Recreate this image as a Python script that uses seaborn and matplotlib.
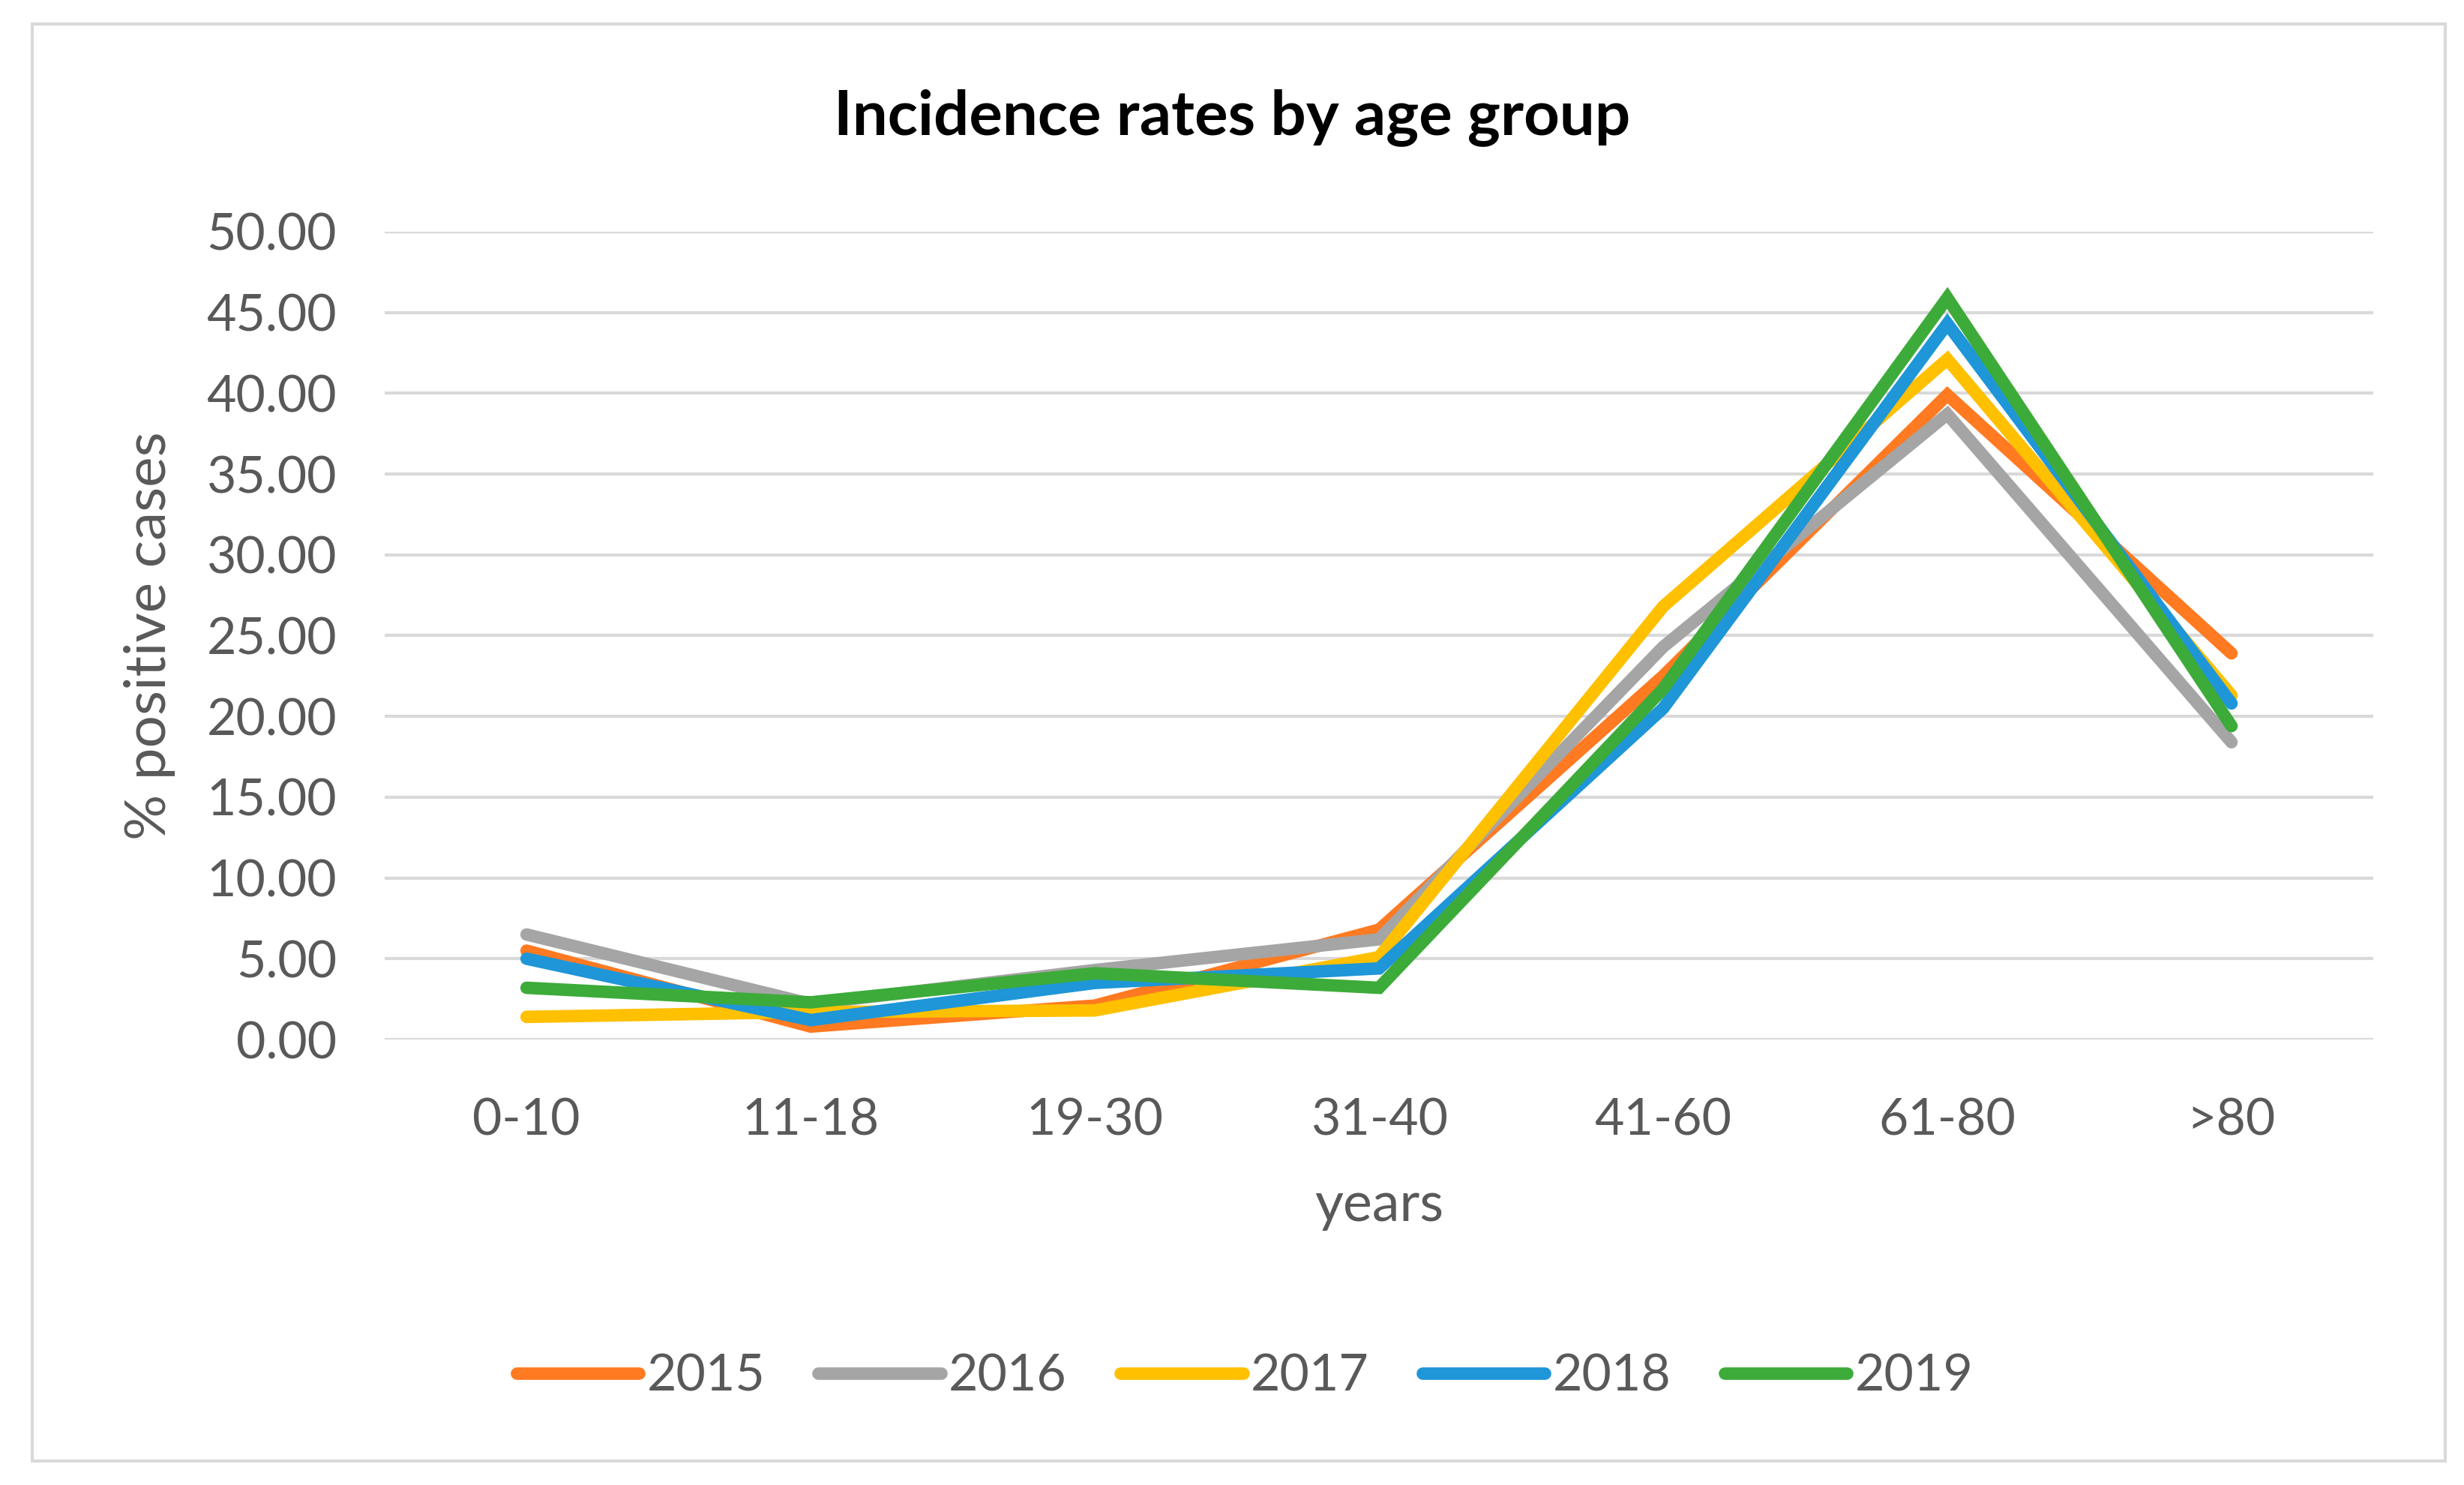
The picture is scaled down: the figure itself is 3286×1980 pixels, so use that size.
import pandas as pd
import seaborn as sns
import matplotlib.pyplot as plt
from matplotlib.patches import Rectangle
from matplotlib.ticker import FormatStrFormatter

# valores
grupos = ["0-10", "11-18", "19-30", "31-40", "41-60", "61-80", ">80"]
anios = ["2015", "2016", "2017", "2018", "2019"]
y2015 = [5.5, 0.8, 2.1, 6.8, 22.5, 39.9, 23.9]
y2016 = [6.5, 2.2, 4.3, 6.2, 24.3, 38.7, 18.4]
y2017 = [1.4, 1.7, 1.8, 5.1, 26.8, 42.1, 21.3]
y2018 = [5.0, 1.2, 3.5, 4.4, 20.5, 44.3, 20.8]
y2019 = [3.2, 2.3, 4.1, 3.2, 21.7, 45.9, 19.4]
colores = ["#FF7A21", "#A5A5A5", "#FFC000", "#1E96D8", "#3DAB3A"]

series = [y2015, y2016, y2017, y2018, y2019]
filas = []
for anio, vals in zip(anios, series):
    for i, v in enumerate(vals):
        filas.append({"grupo": i, "anio": anio, "valor": v})
df = pd.DataFrame(filas)

sns.set_theme(style="white")
plt.rcParams['font.family'] = ['Lato', 'DejaVu Sans']

fig = plt.figure(figsize=(32.87, 19.80), dpi=100)
ax = fig.add_axes([0.156, 0.300, 0.807, 0.544])

paleta = dict(zip(anios, colores))
sns.lineplot(data=df, x="grupo", y="valor", hue="anio", palette=paleta,
             linewidth=12, ax=ax, legend=False)
for ln in ax.lines:
    ln.set_solid_capstyle("round")
    ln.set_solid_joinstyle("miter")

ax.set_xlim(-0.5, 6.5)
ax.set_ylim(0, 50)
ax.set_xticks(range(len(grupos)))
ax.set_xticklabels(grupos)
ax.set_yticks([0, 5, 10, 15, 20, 25, 30, 35, 40, 45, 50])
ax.yaxis.set_major_formatter(FormatStrFormatter("%.2f"))
ax.grid(axis="y", color="#D9D9D9", linewidth=3)
ax.set_axisbelow(True)
for s in ax.spines.values():
    s.set_visible(False)
ax.tick_params(axis="both", length=0, labelsize=49, labelcolor="#595959")
ax.tick_params(axis="y", pad=46)
ax.tick_params(axis="x", pad=56)
ax.set_xlabel("years", fontsize=53, color="#595959")
ax.set_ylabel("% positive cases", fontsize=55, color="#595959")
ax.xaxis.set_label_coords(0.5, -0.206)
ax.xaxis.label.set_va("center")
ax.yaxis.set_label_coords(-0.118, 0.5)
ax.yaxis.label.set_va("center")

fig.text(0.5, 0.921, "Incidence rates by age group", ha="center", va="center",
         fontsize=60, fontweight="bold", color="black")

# leyenda
handles = [plt.Line2D([0], [0], color=c, linewidth=12, solid_capstyle="round") for c in colores]
fig.legend(handles, anios, loc="center", bbox_to_anchor=(0.505, 0.073), ncol=5,
           frameon=False, fontsize=49, handlelength=2.4, handletextpad=0.15,
           columnspacing=1.05, labelcolor="#595959")

# marco exterior
fig.patches.append(Rectangle((0.013, 0.016), 0.979, 0.968, transform=fig.transFigure,
                             fill=False, edgecolor="#D9D9D9", linewidth=3))

fig.savefig("out.png", dpi=100)
